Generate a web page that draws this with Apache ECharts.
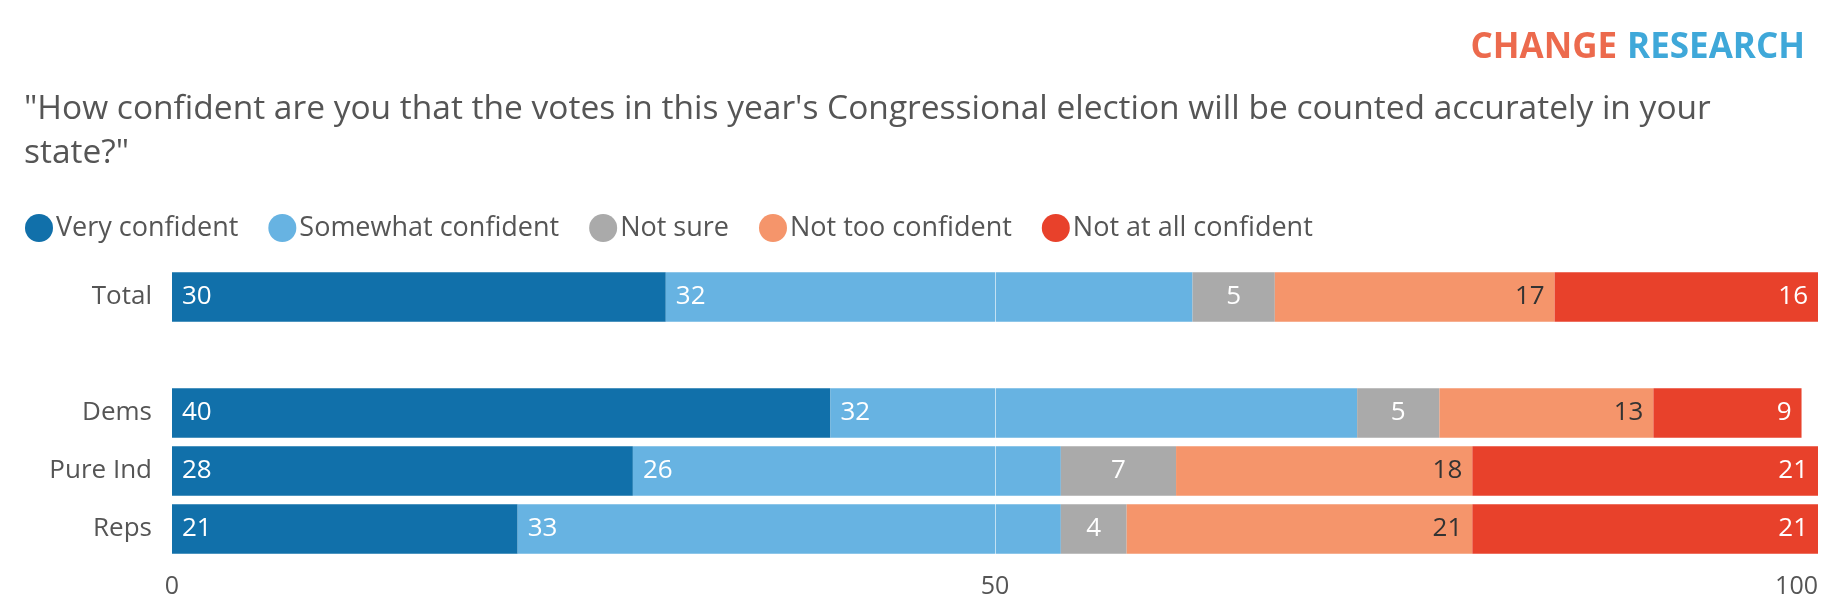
<!DOCTYPE html>
<html><head><meta charset="utf-8">
<script src="https://cdn.jsdelivr.net/npm/echarts@6/dist/echarts.min.js"></script>
<style>html,body{margin:0;background:#fff}#main{width:1840px;height:616px}</style>
</head><body><div id="main"></div>
<script>
// categories (top to bottom), blank row is the gap
var groups = ['Total', '', 'Dems', 'Pure Ind', 'Reps'];
var seriesNames = ['Very confident', 'Somewhat confident', 'Not sure', 'Not too confident', 'Not at all confident'];
var veryConf = [30, null, 40, 28, 21];
var somewhatConf = [32, null, 32, 26, 33];
var notSure = [5, null, 5, 7, 4];
var notTooConf = [17, null, 13, 18, 21];
var notAtAll = [16, null, 9, 21, 21];
var xTicks = [0, 50, 100];

var colors = ['#1170aa', '#67b3e2', '#aaaaaa', '#f5956b', '#e8412b'];
var labelPos = ['insideLeft', 'insideLeft', 'inside', 'insideRight', 'insideRight'];
var labelColor = ['#fff', '#fff', '#fff', '#333', '#fff'];
var values = [veryConf, somewhatConf, notSure, notTooConf, notAtAll];
var font = '"Open Sans", Lato, sans-serif';

var series = values.map(function (v, i) {
    var s = {
        name: seriesNames[i],
        type: 'bar',
        stack: 'all',
        barCategoryGap: '15%',
        data: v.slice().reverse(),
        itemStyle: {color: colors[i]},
        label: {
            show: true, position: labelPos[i], color: labelColor[i],
            fontSize: 26, fontFamily: font, distance: 10
        }
    };
    if (i == 0) {
        s.markLine = {
            silent: true, symbol: 'none', label: {show: false},
            lineStyle: {color: 'rgba(255,255,255,0.6)', width: 1, type: 'solid'},
            data: [{xAxis: 50}], z: 10
        };
    }
    return s;
});

var myChart = echarts.init(document.getElementById('main'));
var option = {
    animation: false,
    title: [{
        text: '"How confident are you that the votes in this year\'s Congressional election will be counted accurately in your\nstate?"',
        left: 19, top: 82,
        textStyle: {fontFamily: font, fontWeight: 'normal', fontSize: 33.5, color: '#555', lineHeight: 44}
    }, {
        text: '{a|CHANGE}  {b|RESEARCH}',
        right: 30, top: 26,
        textStyle: {rich: {
            a: {fontFamily: font, fontWeight: 'bold', fontSize: 35, color: '#ec6a4d'},
            b: {fontFamily: font, fontWeight: 'bold', fontSize: 35, color: '#3fa8d9'}
        }}
    }],
    legend: {
        left: 20, top: 209, itemGap: 30, icon: 'circle', itemWidth: 28, itemHeight: 28,
        textStyle: {fontFamily: font, fontSize: 27, color: '#555', padding: [0, 0, 0, -2]},
        data: seriesNames
    },
    grid: {left: 172, right: 22, top: 268, bottom: 58},
    xAxis: {
        type: 'value', min: 0, max: 100, interval: 50,
        splitLine: {show: false}, axisLine: {show: false}, axisTick: {show: false},
        axisLabel: {fontFamily: font, fontSize: 25, color: '#555', margin: 16,
            customValues: xTicks, alignMaxLabel: 'right'}
    },
    yAxis: {
        type: 'category', data: groups.slice().reverse(),
        axisLine: {show: false}, axisTick: {show: false},
        axisLabel: {fontFamily: font, fontSize: 26, color: '#555', margin: 20}
    },
    series: series
};
myChart.setOption(option);
</script></body></html>
